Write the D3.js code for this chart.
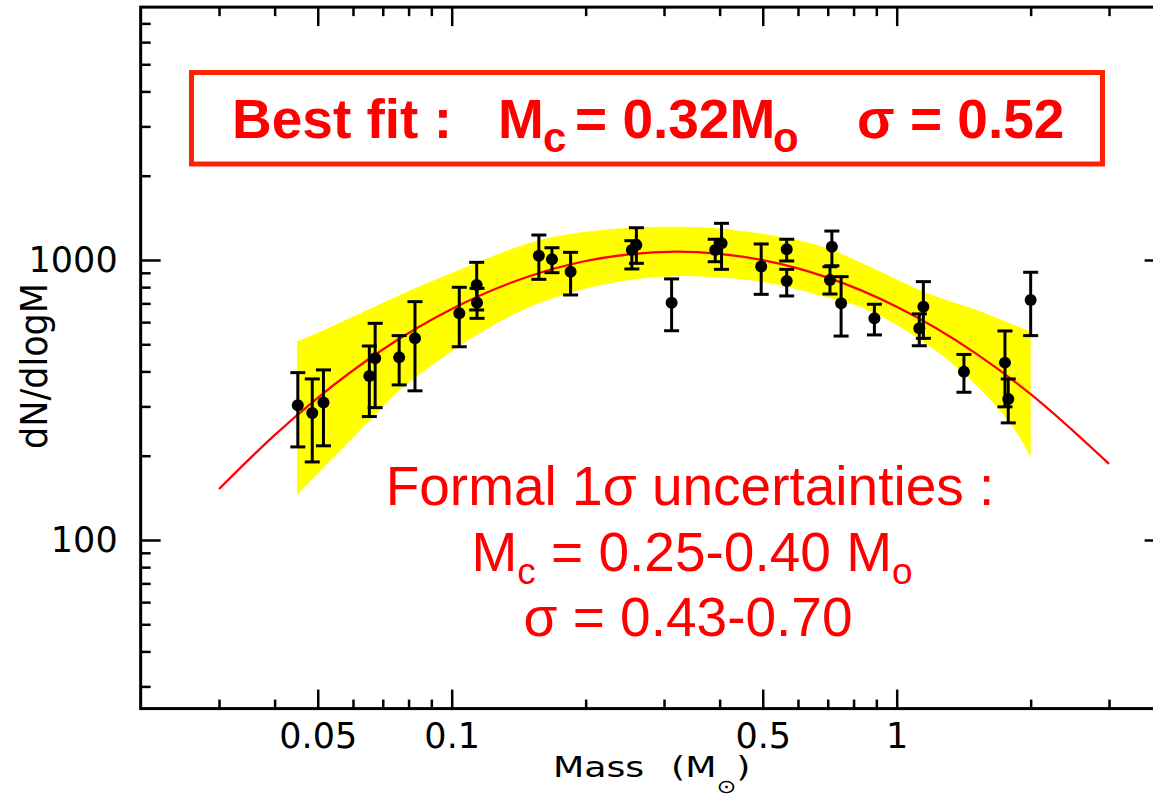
<!DOCTYPE html>
<html><head><meta charset="utf-8">
<script src="https://cdn.jsdelivr.net/npm/d3@7"></script>
<style>body{margin:0;background:#fff;} svg{display:block;}</style>
</head><body><svg id="chart" width="1153" height="796"></svg>
<script>
// ---------- data ----------
const mass     = [0.0451,0.0486,0.0515,0.0653,0.0673,0.0762,0.0827,0.104,0.1138,0.114,0.157,0.168,0.185,0.254,0.260,0.312,0.391,0.404,0.496,0.566,0.566,0.715,0.708,0.750,0.891,1.148,1.124,1.416,1.751,1.781,2.00];
const dNdlogM  = [303,284,310,385,446,449,525,645,814,704,1036,1006,908,1086,1131,704,1086,1147,948,1092,841,1115,848,701,619,681,570,399,430,319,720];
const errHigh  = [396,376,405,493,594,537,710,799,981,792,1228,1106,1065,1172,1304,856,1186,1352,1141,1186,926,1269,946,872,695,837,642,460,558,376,904];
const errLow   = [215,190,217,276,297,358,341,490,663,619,853,901,750,929,973,559,986,926,754,992,744,954,756,535,540,525,494,337,299,262,537];

const fitMass  = [0.03,0.04,0.05,0.07,0.1,0.15,0.2,0.25,0.32,0.4,0.5,0.7,1,1.5,2,3];
const fitValue = [152,237,322,479,668,877,992,1048,1071,1052,999,865,681,466,332,187];

const bandUpperMass  = [0.0449,0.0506,0.0765,0.0974,0.158,0.230,0.299,0.387,0.547,0.696,0.902,1.168,1.513,2.0];
const bandUpperValue = [511,554,750,884,1179,1290,1315,1301,1211,1104,921,763,663,554];
const bandLowerMass  = [0.0449,0.0591,0.0765,0.0894,0.1158,0.150,0.1943,0.2516,0.3258,0.4221,0.5467,0.6384,0.827,1.071,1.388,1.797,2.0];
const bandLowerValue = [145,226,343,416,549,681,781,849,877,860,814,763,681,549,405,262,198];

const xDomain = [0.02, 4];
const yDomain = [25, 8000];
const xMajorTicks = [0.05, 0.1, 0.5, 1];
const xTickLabels = ["0.05", "0.1", "0.5", "1"];
const xMinorTicks = [0.03,0.04,0.06,0.07,0.08,0.09,0.2,0.3,0.4,0.6,0.7,0.8,0.9,2,3];
const yMajorTicks = [100, 1000];
const yTickLabels = ["100", "1000"];
const yMinorTicks = [30,40,50,60,70,80,90,200,300,400,500,600,700,800,900,2000,3000,4000,5000,6000,7000];

// ---------- drawing ----------
const svg = d3.select('#chart');
const x = d3.scaleLog().domain(xDomain).range([140.66, 1164.62]);
const y = d3.scaleLog().domain(yDomain).range([708.58, 7.13]);
const [x0, x1] = x.range();
const [yb, yt] = y.range();

// band
const lineGen = d3.line().x(d => x(d[0])).y(d => y(d[1])).curve(d3.curveCatmullRom);
const upperPts = bandUpperMass.map((m, i) => [m, bandUpperValue[i]]);
const lowerPts = bandLowerMass.map((m, i) => [m, bandLowerValue[i]]).reverse();
const bandPath = lineGen(upperPts) + 'L' + lineGen(lowerPts).slice(1) + 'Z';
svg.append('path').attr('d', bandPath).attr('fill', '#ffff00').attr('stroke', 'none');

// fit curve
svg.append('path')
  .attr('d', d3.line().x(d => x(d[0])).y(d => y(d[1])).curve(d3.curveMonotoneX)(fitMass.map((m, i) => [m, fitValue[i]])))
  .attr('fill', 'none').attr('stroke', '#ff0000').attr('stroke-width', 2.2);

// error bars and points
const pts = svg.append('g');
mass.forEach((m, i) => {
  const cx = x(m);
  pts.append('line').attr('x1', cx).attr('x2', cx).attr('y1', y(errLow[i])).attr('y2', y(errHigh[i]))
    .attr('stroke', '#000').attr('stroke-width', 3);
  [errLow[i], errHigh[i]].forEach(v => {
    pts.append('line').attr('x1', cx - 7.5).attr('x2', cx + 7.5).attr('y1', y(v)).attr('y2', y(v))
      .attr('stroke', '#000').attr('stroke-width', 3);
  });
  pts.append('circle').attr('cx', cx).attr('cy', y(dNdlogM[i])).attr('r', 6).attr('fill', '#000');
});

// axes
function styleAxis(g, fs) {
  g.select('.domain').remove();
  g.selectAll('line').attr('stroke', '#000').attr('stroke-width', 2.5);
  g.selectAll('text').attr('fill', '#000').attr('font-family', 'DejaVu Sans').attr('font-size', fs);
}
svg.append('g').attr('transform', `translate(0,${yb})`)
  .call(d3.axisBottom(x).tickValues(xMajorTicks).tickSize(-19).tickPadding(14.5).tickFormat((d, i) => xTickLabels[i]))
  .call(g => styleAxis(g, 35));
svg.append('g').attr('transform', `translate(0,${yb})`)
  .call(d3.axisBottom(x).tickValues(xMinorTicks).tickSize(-9).tickFormat(''))
  .call(g => styleAxis(g, 35));
svg.append('g').attr('transform', `translate(0,${yt})`)
  .call(d3.axisTop(x).tickValues(xMajorTicks).tickSize(-19).tickFormat(''))
  .call(g => styleAxis(g, 35));
svg.append('g').attr('transform', `translate(0,${yt})`)
  .call(d3.axisTop(x).tickValues(xMinorTicks).tickSize(-9).tickFormat(''))
  .call(g => styleAxis(g, 35));
svg.append('g').attr('transform', `translate(${x0},0)`)
  .call(d3.axisLeft(y).tickValues(yMajorTicks).tickSize(-20).tickPadding(23).tickFormat((d, i) => yTickLabels[i]))
  .call(g => styleAxis(g, 35));
svg.append('g').attr('transform', `translate(${x0},0)`)
  .call(d3.axisLeft(y).tickValues(yMinorTicks).tickSize(-10).tickFormat(''))
  .call(g => styleAxis(g, 35));
svg.append('g').attr('transform', `translate(${x1},0)`)
  .call(d3.axisRight(y).tickValues(yMajorTicks).tickSize(-20).tickFormat(''))
  .call(g => styleAxis(g, 35));
svg.append('g').attr('transform', `translate(${x1},0)`)
  .call(d3.axisRight(y).tickValues(yMinorTicks).tickSize(-10).tickFormat(''))
  .call(g => styleAxis(g, 35));

// frame
svg.append('rect').attr('x', x0).attr('y', yt).attr('width', x1 - x0).attr('height', yb - yt)
  .attr('fill', 'none').attr('stroke', '#000').attr('stroke-width', 3);

// axis titles
svg.append('text').attr('transform', 'translate(553,777) scale(1.25,1)')
  .attr('font-family', 'DejaVu Sans').attr('font-size', 29).attr('fill', '#000').text('Mass');
const xt = svg.append('text').attr('transform', 'translate(671,777) scale(1.25,1)')
  .attr('font-family', 'DejaVu Sans').attr('font-size', 29).attr('fill', '#000');
xt.append('tspan').text('(M');
xt.append('tspan').attr('font-size', 19).attr('dy', 16).text('\u2299');
xt.append('tspan').attr('dy', -16).text(')');

svg.append('text').attr('transform', 'translate(46.5,366) scale(1.07,1) rotate(-90)')
  .attr('text-anchor', 'middle').attr('font-family', 'DejaVu Sans').attr('font-size', 35)
  .attr('fill', '#000').text('dN/dlogM');

// best-fit box
svg.append('rect').attr('x', 191.5).attr('y', 72.5).attr('width', 911).attr('height', 91.5)
  .attr('fill', 'none').attr('stroke', '#ff2200').attr('stroke-width', 5);
const bf = svg.append('g').attr('font-family', 'Liberation Sans, Arial, sans-serif').attr('font-weight', 'bold').attr('fill', '#ff0000');
bf.append('text').attr('x', 232).attr('y', 138).attr('font-size', 55).text('Best fit :');
bf.append('text').attr('x', 498).attr('y', 138).attr('font-size', 55).text('M');
bf.append('text').attr('x', 543).attr('y', 152).attr('font-size', 42).text('c');
bf.append('text').attr('x', 575).attr('y', 138).attr('font-size', 55).text('= 0.32M');
bf.append('text').attr('x', 773).attr('y', 152).attr('font-size', 42).text('o');
bf.append('text').attr('x', 857).attr('y', 138).attr('font-size', 55).text('\u03c3 = 0.52');

// uncertainty annotation
const an = svg.append('g').attr('font-family', 'Liberation Sans, Arial, sans-serif').attr('fill', '#ff0000')
  .attr('text-anchor', 'middle');
an.append('text').attr('x', 690).attr('y', 505).attr('font-size', 55).text('Formal 1\u03c3 uncertainties :');
const l2 = an.append('text').attr('x', 692).attr('y', 571).attr('font-size', 55);
l2.append('tspan').text('M');
l2.append('tspan').attr('font-size', 37).attr('dy', 13).text('c');
l2.append('tspan').attr('dy', -13).text('\u00a0= 0.25-0.40 M');
l2.append('tspan').attr('font-size', 37).attr('dy', 13).text('o');
an.append('text').attr('x', 688).attr('y', 636).attr('font-size', 55).text('\u03c3 = 0.43-0.70');
</script></body></html>
